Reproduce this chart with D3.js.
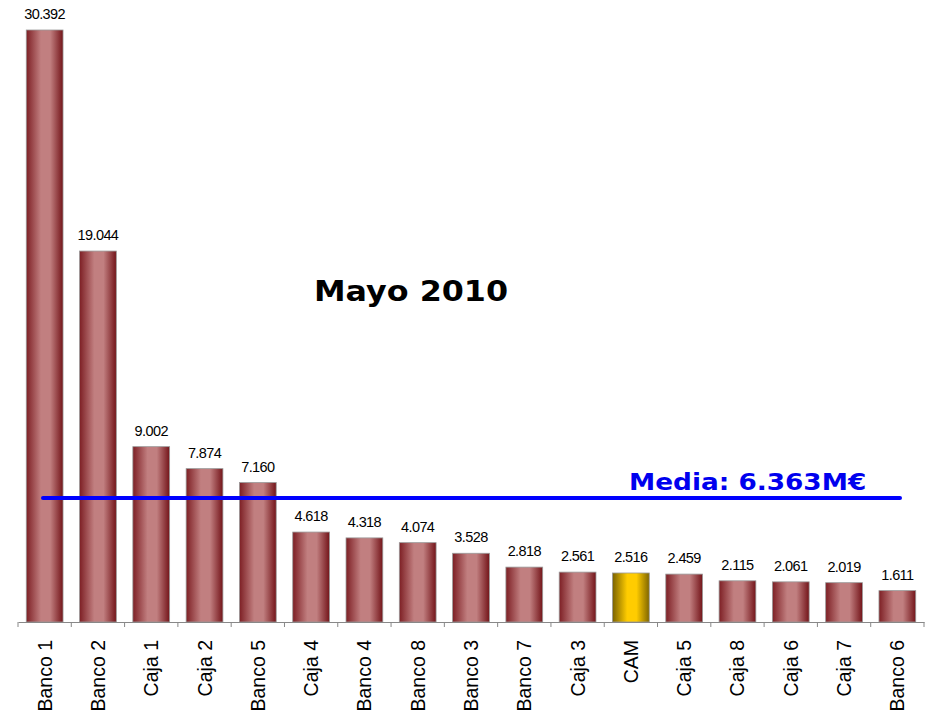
<!DOCTYPE html>
<html>
<head>
<meta charset="utf-8">
<script src="https://cdn.jsdelivr.net/npm/d3@7"></script>
<style>
body { margin: 0; background: #fff; }
svg { display: block; }
</style>
</head>
<body>
<svg id="chart"></svg>
<script>
// datos
let categorias = ["Banco 1", "Banco 2", "Caja 1", "Caja 2", "Banco 5", "Caja 4", "Banco 4", "Banco 8", "Banco 3", "Banco 7", "Caja 3", "CAM", "Caja 5", "Caja 8", "Caja 6", "Caja 7", "Banco 6"];
let valores = [30.392, 19.044, 9.002, 7.874, 7.160, 4.618, 4.318, 4.074, 3.528, 2.818, 2.561, 2.516, 2.459, 2.115, 2.061, 2.019, 1.611];
let etiquetas = ["30.392", "19.044", "9.002", "7.874", "7.160", "4.618", "4.318", "4.074", "3.528", "2.818", "2.561", "2.516", "2.459", "2.115", "2.061", "2.019", "1.611"];
let media = 6.363;
let titulo = "Mayo 2010";
let textoMedia = "Media: 6.363M€";

let width = 929, height = 720;
let x0 = 18, x1 = 924, baseY = 622;

let svg = d3.select("#chart").attr("width", width).attr("height", height);

// degradados para las barras
let defs = svg.append("defs");
function degradado(id, c1, c2, c3) {
	let g = defs.append("linearGradient").attr("id", id)
		.attr("x1", "0%").attr("x2", "100%").attr("y1", "0%").attr("y2", "0%");
	g.append("stop").attr("offset", "0%").attr("stop-color", c1);
	g.append("stop").attr("offset", "40%").attr("stop-color", c2);
	g.append("stop").attr("offset", "65%").attr("stop-color", c2);
	g.append("stop").attr("offset", "100%").attr("stop-color", c3);
}
degradado("rojo", "#7d1f24", "#c17f80", "#731419");
degradado("oro", "#7a6200", "#ffcc00", "#806600");

let scaleX = d3.scaleBand().domain(categorias).range([x0, x1]).paddingInner(0.31).paddingOuter(0.155);
let scaleY = d3.scaleLinear().domain([0, 30.392]).range([baseY, 30]);

// barras
svg.selectAll(".bar")
	.data(categorias)
	.enter()
	.append("rect")
	.attr("x", d => scaleX(d))
	.attr("y", (d, i) => scaleY(valores[i]))
	.attr("width", scaleX.bandwidth())
	.attr("height", (d, i) => baseY - scaleY(valores[i]))
	.attr("fill", d => d == "CAM" ? "url(#oro)" : "url(#rojo)")
	.attr("stroke", "#9a9a9a")
	.attr("stroke-width", 0.8);

// valores encima de las barras
svg.selectAll(".val")
	.data(categorias)
	.enter()
	.append("text")
	.attr("x", d => scaleX(d) + scaleX.bandwidth() / 2)
	.attr("y", (d, i) => scaleY(valores[i]) - 11)
	.attr("text-anchor", "middle")
	.style("font-family", "'Liberation Sans', Arial, sans-serif")
	.style("font-size", "14.5px")
	.style("letter-spacing", "-0.6px")
	.text((d, i) => etiquetas[i]);

// eje X
let axisX = d3.axisBottom(scaleX).tickSize(0).tickFormat("");
svg.append("g")
	.attr("transform", `translate(0, ${baseY})`)
	.call(axisX)
	.select(".domain").attr("stroke", "#888").attr("stroke-width", 1);

// marcas entre categorias
let limites = d3.range(categorias.length + 1).map(i => x0 + i * (x1 - x0) / categorias.length);
svg.selectAll(".tick-sep")
	.data(limites)
	.enter()
	.append("line")
	.attr("x1", d => d).attr("x2", d => d)
	.attr("y1", baseY).attr("y2", baseY + 5)
	.attr("stroke", "#888").attr("stroke-width", 1);

// nombres de las categorias
svg.selectAll(".cat")
	.data(categorias)
	.enter()
	.append("text")
	.attr("transform", d => `translate(${scaleX(d) + scaleX.bandwidth() / 2 + 7}, 640) rotate(-90)`)
	.attr("text-anchor", "end")
	.style("font-family", "'Liberation Sans', Arial, sans-serif")
	.style("font-size", "19.5px")
	.text(d => d);

// linea de la media
svg.append("line")
	.attr("x1", 43).attr("x2", 900)
	.attr("y1", scaleY(media)).attr("y2", scaleY(media))
	.attr("stroke", "#0000ff")
	.attr("stroke-width", 4)
	.attr("stroke-linecap", "round");

// texto ensanchado (tipo Verdana)
svg.append("text")
	.attr("transform", "translate(629, 490) scale(1.145, 1)")
	.style("font-family", "'DejaVu Sans', Verdana, sans-serif")
	.style("font-weight", "bold")
	.style("font-size", "23px")
	.attr("fill", "#0000ee")
	.text(textoMedia);

// titulo
svg.append("text")
	.attr("transform", "translate(314, 301) scale(1.135, 1)")
	.style("font-family", "'DejaVu Sans', Verdana, sans-serif")
	.style("font-weight", "bold")
	.style("font-size", "28px")
	.attr("fill", "#000")
	.text(titulo);
</script>
</body>
</html>
